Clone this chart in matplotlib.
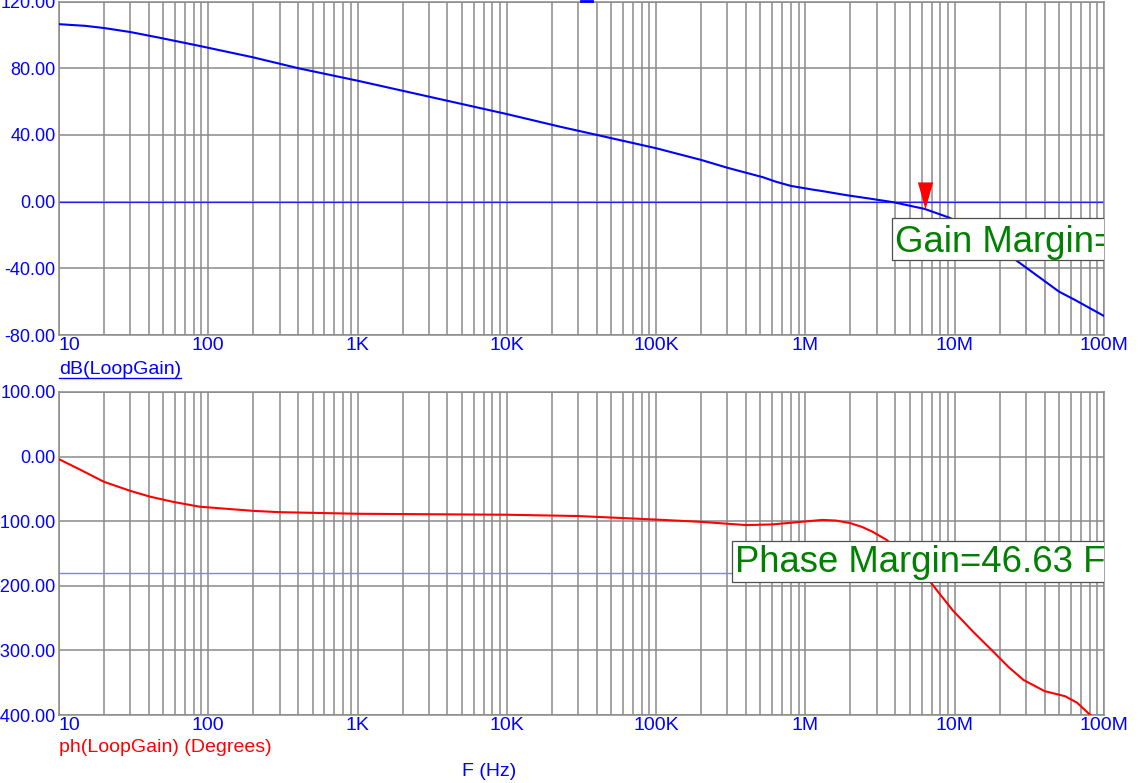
import matplotlib
matplotlib.use('Agg')
import numpy as np
import matplotlib.pyplot as plt
from matplotlib.ticker import LogLocator, NullFormatter, FixedLocator
from matplotlib.patches import Rectangle
from matplotlib.path import Path
from matplotlib.lines import Line2D

plt.rcParams['font.family'] = ['Liberation Sans', 'DejaVu Sans']

# ---------------- data ----------------
freq_gain = [10, 15, 20, 30, 47, 88, 200, 400, 1e3, 1e4, 2.25e4, 4e4, 1e5, 1.5e5, 2e5,
             3e5, 5.2e5, 6.3e5, 8e5, 1.1e6, 1.3e6, 1.9e6, 2.7e6, 3.9e6, 6.3e6, 9.3e6,
             1.5e7, 2.56e7, 5e7, 6.4e7, 1e8]
gain_db = [106.4, 105.4, 104.1, 101.7, 98.3, 93.3, 86.5, 80.0, 72.5, 52.5, 45.0, 40.0,
           32.0, 27.9, 25.0, 20.3, 14.6, 12.0, 9.4, 7.3, 6.3, 3.8, 1.8, -0.4, -4.4, -9.8,
           -21.0, -35.0, -54.0, -59.0, -68.6]

freq_phase = [10, 13.8, 20, 30, 40.7, 58, 87, 200, 300, 1e3, 1e4, 3e4, 1e5, 2e5, 4e5,
              6e5, 1.3e6, 1.6e6, 2e6, 2.4e6, 2.8e6, 3.5e6, 4.5e6, 5.5e6, 6.7e6, 9.7e6,
              1.34e7, 1.85e7, 2.3e7, 2.9e7, 4e7, 5.5e7, 6.6e7, 8.1e7, 1e8]
phase_deg = [-4, -20, -39, -53, -62, -70, -77.5, -84, -86, -88.5, -90, -92, -97.5, -101,
             -106, -105, -98, -99, -103, -109, -116, -129, -150, -171, -191, -238, -272,
             -304, -326, -346, -363, -371, -381, -400, -425]

x_ticks = [1e1, 1e2, 1e3, 1e4, 1e5, 1e6, 1e7, 1e8]
x_tick_labels = ['10', '100', '1K', '10K', '100K', '1M', '10M', '100M']
gain_ticks = [120, 80, 40, 0, -40, -80]
phase_ticks = [100, 0, -100, -200, -300, -400]
gain_ref_db = 0
phase_ref_deg = -180

gain_marker_f, gain_marker_db = 6.3e6, -4.4
gain_box = dict(f=3.82e6, top=-9.8, bottom=-35.0, text_f=4.0e6, text_y=-30.2,
                text='Gain Margin=')
phase_box = dict(f=3.2e5, top=-130.6, bottom=-194.0, text_f=3.35e5, text_y=-179.4,
                 text='Phase Margin=46.63 Fl')

# ---------------- layout ----------------
W, H = 1138, 783
fig = plt.figure(figsize=(W / 100, H / 100), dpi=100)


def rect(l, t, r, b):
    return [l / W, 1 - b / H, (r - l) / W, (b - t) / H]


ax1 = fig.add_axes(rect(59, 1.5, 1104, 335))
ax2 = fig.add_axes(rect(59, 392, 1104, 715))

GRID = '#8a8a8a'
BLUE = '#0000ff'
FS = 14
FS_Y = 13

for ax, ticks, lim in ((ax1, gain_ticks, (-80, 120)), (ax2, phase_ticks, (-400, 100))):
    ax.set_xscale('log')
    ax.set_xlim(10, 1e8)
    ax.set_ylim(*lim)
    ax.set_axisbelow(True)
    ax.xaxis.set_major_locator(FixedLocator(x_ticks))
    ax.set_xticks(x_ticks, labels=x_tick_labels)
    ax.xaxis.set_minor_locator(LogLocator(base=10, subs=range(2, 10), numticks=20))
    ax.xaxis.set_minor_formatter(NullFormatter())
    ax.set_yticks(ticks, labels=[f'{v:.2f}' for v in ticks])
    ax.grid(which='major', axis='both', color=GRID, lw=1.1)
    ax.grid(which='minor', axis='x', color=GRID, lw=1.1)
    ax.tick_params(which='both', length=0, labelcolor=BLUE)
    ax.tick_params(axis='x', pad=1.2, labelsize=FS)
    ax.tick_params(axis='y', pad=2.5, labelsize=FS_Y)
    for s in ax.spines.values():
        s.set_color(GRID)
        s.set_linewidth(1.1)
    ax.get_xticklabels()[0].set_horizontalalignment('left')

# ---------------- gain panel ----------------
ax1.axhline(gain_ref_db, color='#2222ee', lw=0.9, zorder=2)
ax1.plot(freq_gain, gain_db, color=BLUE, lw=1.5, zorder=3)

tri = Path([(0, 0), (-0.28, 1), (0.28, 1), (0, 0)],
           [Path.MOVETO, Path.LINETO, Path.LINETO, Path.CLOSEPOLY])
ax1.plot([gain_marker_f], [gain_marker_db], marker=tri, markersize=39,
         color='#ff0000', markeredgewidth=0, ls='none', zorder=6, clip_on=False)

r1 = Rectangle((gain_box['f'], gain_box['bottom']), 1e9, gain_box['top'] - gain_box['bottom'],
               facecolor='white', edgecolor='#505050', lw=0.9, zorder=5)
ax1.add_patch(r1)
ax1.text(gain_box['text_f'], gain_box['text_y'], gain_box['text'], color='#008000',
         fontsize=26.3, ha='left', va='baseline', zorder=7, clip_on=True)

# ---------------- phase panel ----------------
ax2.axhline(phase_ref_deg, color='#8080ff', lw=1.0, zorder=2)
ax2.plot(freq_phase, phase_deg, color='#ff0000', lw=1.5, zorder=3)

r2 = Rectangle((phase_box['f'], phase_box['bottom']), 1e9, phase_box['top'] - phase_box['bottom'],
               facecolor='white', edgecolor='#505050', lw=0.9, zorder=5)
ax2.add_patch(r2)
ax2.text(phase_box['text_f'], phase_box['text_y'], phase_box['text'], color='#008000',
         fontsize=26.3, ha='left', va='baseline', zorder=7, clip_on=True)

# ---------------- labels ----------------
lab1 = fig.text(59 / W, 1 - 369 / H, 'dB(LoopGain)', color=BLUE, fontsize=FS,
                ha='left', va='center')
fig.text(59 / W, 1 - 748 / H, 'ph(LoopGain) (Degrees)', color='#ff0000', fontsize=FS,
         ha='left', va='center')
fig.text(462 / W, 1 - 771 / H, 'F (Hz)', color=BLUE, fontsize=FS, ha='left', va='center')

fig.canvas.draw()
bb = lab1.get_window_extent()
uy = 1 - 377.5 / H
fig.add_artist(Line2D([bb.x0 / W, bb.x1 / W], [uy, uy], color=BLUE, lw=1.0,
                      transform=fig.transFigure))
# clipped underline fragment of a label above the plot
fig.add_artist(Line2D([581 / W, 592 / W], [1 - 1 / H, 1 - 1 / H], color=BLUE, lw=2.0,
                      transform=fig.transFigure))

fig.savefig('out.png', dpi=100)
